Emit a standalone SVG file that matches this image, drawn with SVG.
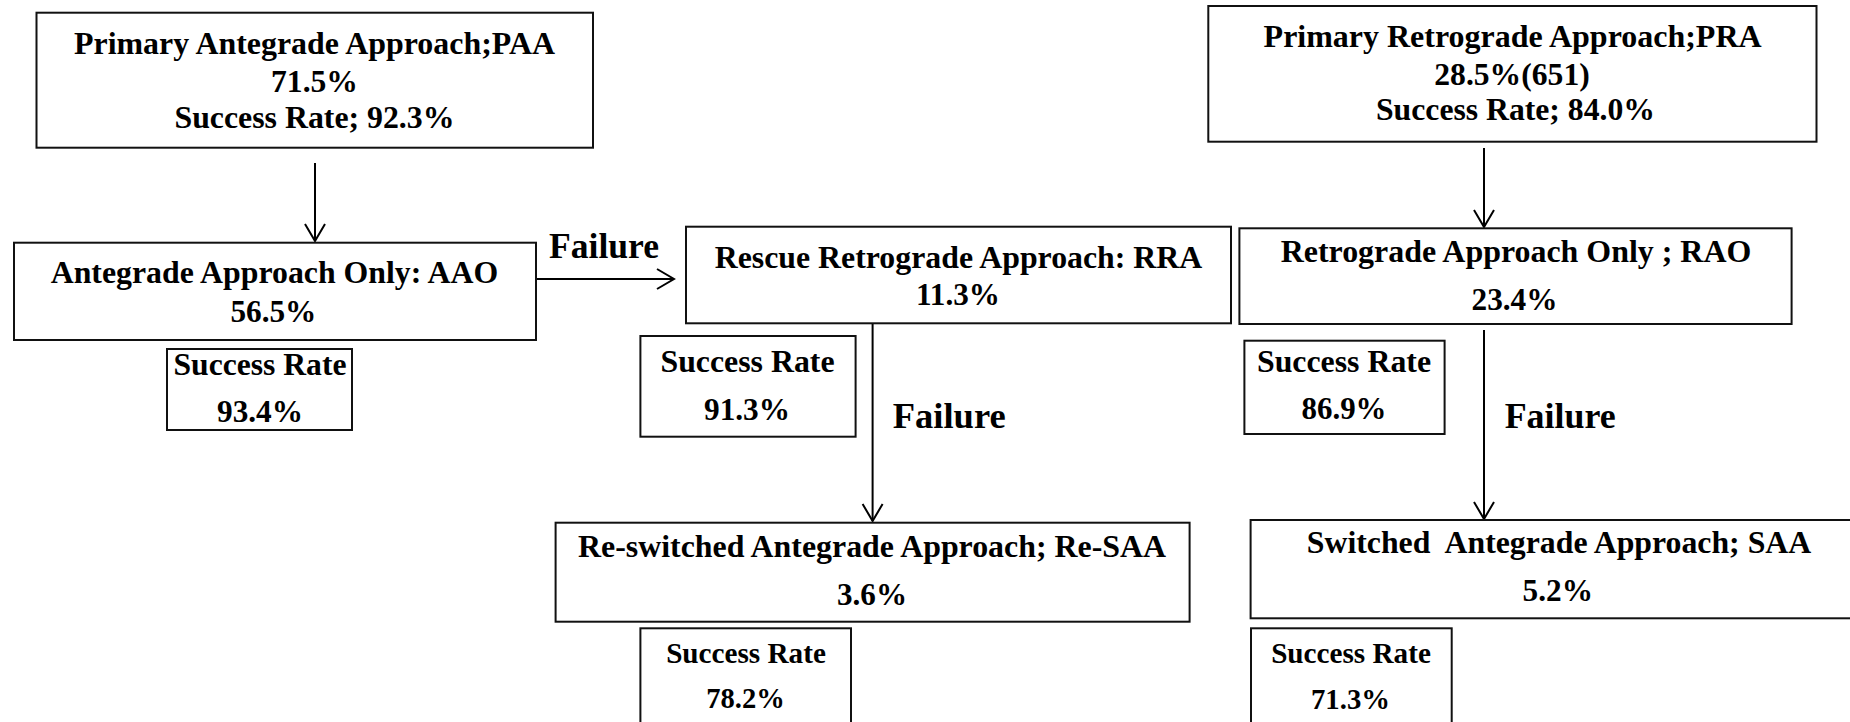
<svg xmlns="http://www.w3.org/2000/svg" width="1850" height="722" viewBox="0 0 1850 722">
<defs>
<style>
.box{fill:#fff;stroke:#111;stroke-width:2}
.t{font-family:"Liberation Serif","Times New Roman",serif;font-weight:bold;font-size:31.5px;fill:#000;text-anchor:middle}
.s{font-size:29px}
.f{font-family:"Liberation Serif","Times New Roman",serif;font-weight:bold;font-size:35px;fill:#000}
.c{fill:none;stroke:#000;stroke-width:2}
</style>
<marker id="ah" markerUnits="userSpaceOnUse" markerWidth="24" markerHeight="24" viewBox="-20 -12 24 24" refX="0" refY="0" orient="auto">
<path d="M-17,-10 L0,0 L-17,10" fill="none" stroke="#000" stroke-width="2"/>
</marker>
</defs>
<rect width="1850" height="722" fill="#fff"/>
<g id="connectors">
<line class="c" x1="315" y1="163" x2="315" y2="241" marker-end="url(#ah)"/>
<line class="c" x1="537" y1="279" x2="674" y2="279" marker-end="url(#ah)"/>
<line class="c" x1="872.6" y1="324" x2="872.6" y2="521" marker-end="url(#ah)"/>
<line class="c" x1="1484" y1="148" x2="1484" y2="227" marker-end="url(#ah)"/>
<line class="c" x1="1484" y1="330" x2="1484" y2="519" marker-end="url(#ah)"/>
<text class="f" x="549" y="257.5" textLength="110" lengthAdjust="spacingAndGlyphs">Failure</text>
<text class="f" x="892.7" y="428.3" textLength="113" lengthAdjust="spacingAndGlyphs">Failure</text>
<text class="f" x="1504.7" y="428.3" textLength="111" lengthAdjust="spacingAndGlyphs">Failure</text>
</g>
<g id="paa">
<rect class="box" x="36.5" y="12.7" width="556.5" height="135"/>
<text class="t" x="314.5" y="53.5" textLength="481" lengthAdjust="spacingAndGlyphs">Primary Antegrade Approach;PAA</text>
<text class="t" x="314.5" y="91.7" textLength="87" lengthAdjust="spacingAndGlyphs">71.5%</text>
<text class="t" x="314.5" y="128.3" textLength="280" lengthAdjust="spacingAndGlyphs">Success Rate; 92.3%</text>
</g>
<g id="aao">
<rect class="box" x="14" y="242.7" width="522" height="97.3"/>
<text class="t" x="274.5" y="283.3" textLength="447.6" lengthAdjust="spacingAndGlyphs">Antegrade Approach Only: AAO</text>
<text class="t" x="273.4" y="321.7" textLength="86" lengthAdjust="spacingAndGlyphs">56.5%</text>
</g>
<g id="sr-aao">
<rect class="box" x="167" y="349" width="185" height="81"/>
<text class="t" x="260" y="375" textLength="173" lengthAdjust="spacingAndGlyphs">Success Rate</text>
<text class="t" x="260" y="421.7" textLength="86" lengthAdjust="spacingAndGlyphs">93.4%</text>
</g>
<g id="rra">
<rect class="box" x="686" y="226.7" width="545" height="96.6"/>
<text class="t" x="958.5" y="268.3" textLength="487.5" lengthAdjust="spacingAndGlyphs">Rescue Retrograde Approach: RRA</text>
<text class="t" x="958" y="305" textLength="84" lengthAdjust="spacingAndGlyphs">11.3%</text>
</g>
<g id="sr-rra">
<rect class="box" x="640.4" y="336" width="215.2" height="100.7"/>
<text class="t" x="747.5" y="371.7" textLength="174" lengthAdjust="spacingAndGlyphs">Success Rate</text>
<text class="t" x="747" y="420" textLength="86" lengthAdjust="spacingAndGlyphs">91.3%</text>
</g>
<g id="resaa">
<rect class="box" x="555.6" y="522.7" width="634" height="99"/>
<text class="t" x="872" y="557.3" textLength="588" lengthAdjust="spacingAndGlyphs">Re-switched Antegrade Approach; Re-SAA</text>
<text class="t" x="872" y="605" textLength="70" lengthAdjust="spacingAndGlyphs">3.6%</text>
</g>
<g id="sr-resaa">
<rect class="box" x="640.4" y="628.3" width="210.6" height="110"/>
<text class="t s" x="746" y="663.3" textLength="159.7" lengthAdjust="spacingAndGlyphs">Success Rate</text>
<text class="t s" x="745.5" y="708.3" textLength="78.6" lengthAdjust="spacingAndGlyphs">78.2%</text>
</g>
<g id="pra">
<rect class="box" x="1208.3" y="6" width="608.2" height="135.7"/>
<text class="t" x="1512.6" y="46.7" textLength="498" lengthAdjust="spacingAndGlyphs">Primary Retrograde Approach;PRA</text>
<text class="t" x="1512" y="85" textLength="155.5" lengthAdjust="spacingAndGlyphs">28.5%(651)</text>
<text class="t" x="1515.5" y="120" textLength="279" lengthAdjust="spacingAndGlyphs">Success Rate; 84.0%</text>
</g>
<g id="rao">
<rect class="box" x="1239.4" y="228.3" width="552.2" height="95.7"/>
<text class="t" x="1516" y="261.7" textLength="470.6" lengthAdjust="spacingAndGlyphs">Retrograde Approach Only ; RAO</text>
<text class="t" x="1514.5" y="310" textLength="86" lengthAdjust="spacingAndGlyphs">23.4%</text>
</g>
<g id="sr-rao">
<rect class="box" x="1244.4" y="340.7" width="200.2" height="93.3"/>
<text class="t" x="1344" y="371.7" textLength="174" lengthAdjust="spacingAndGlyphs">Success Rate</text>
<text class="t" x="1344" y="419.3" textLength="85" lengthAdjust="spacingAndGlyphs">86.9%</text>
</g>
<g id="saa">
<rect class="box" x="1250.6" y="520" width="640" height="98.3"/>
<text class="t" x="1559" y="553.3" textLength="504.5" lengthAdjust="spacingAndGlyphs" xml:space="preserve">Switched  Antegrade Approach; SAA</text>
<text class="t" x="1557.8" y="601" textLength="70.4" lengthAdjust="spacingAndGlyphs">5.2%</text>
</g>
<g id="sr-saa">
<rect class="box" x="1251" y="628.3" width="200.7" height="110"/>
<text class="t s" x="1351" y="663.3" textLength="159.7" lengthAdjust="spacingAndGlyphs">Success Rate</text>
<text class="t s" x="1350.5" y="709.3" textLength="79" lengthAdjust="spacingAndGlyphs">71.3%</text>
</g>
</svg>
